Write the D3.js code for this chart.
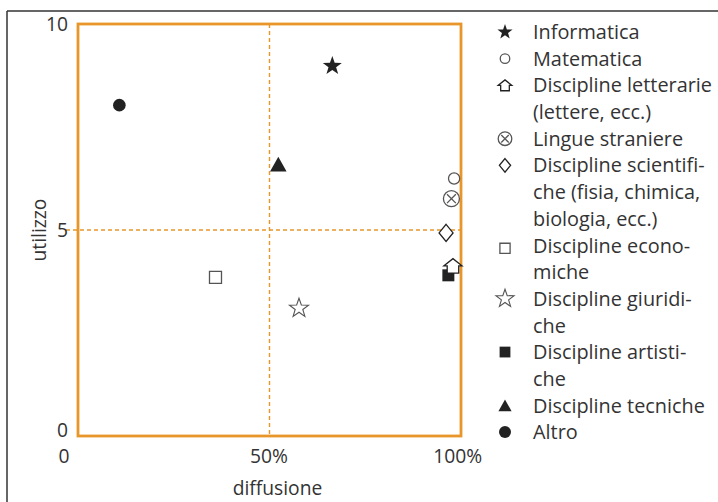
<!DOCTYPE html>
<html><head><meta charset="utf-8">
<script src="https://cdn.jsdelivr.net/npm/d3@7/dist/d3.min.js"></script>
<style>
html,body{margin:0;padding:0;background:#fff;}
svg{display:block;font-family:"Open Sans",Lato,sans-serif;font-variant-ligatures:none;font-feature-settings:"liga" 0;}
</style></head>
<body>
<svg id="chart" width="718" height="502"></svg>
<script>
// ---- data ----
const categories = ["Informatica","Matematica","Discipline letterarie","Lingue straniere","Discipline scientifiche","Discipline economiche","Discipline giuridiche","Discipline artistiche","Discipline tecniche","Altro"];
const diffusione = [0.664, 0.982, 0.979, 0.975, 0.961, 0.359, 0.577, 0.967, 0.523, 0.108];
const utilizzo   = [8.98, 6.25, 4.13, 5.76, 4.93, 3.85, 3.10, 3.90, 6.60, 8.03];
const symbolKinds = ["starFilled","circleOpen","houseOpen","circleX","diamondOpen","squareOpen","starOpen","squareFilled","triangleFilled","circleFilled"];
const legendLines = [
  ["Informatica"],
  ["Matematica"],
  ["Discipline letterarie","(lettere, ecc.)"],
  ["Lingue straniere"],
  ["Discipline scientifi-","che (fisia, chimica,","biologia, ecc.)"],
  ["Discipline econo-","miche"],
  ["Discipline giuridi-","che"],
  ["Discipline artisti-","che"],
  ["Discipline tecniche"],
  ["Altro"]
];
const xTicks = [0, 0.5, 1];
const xTickLabels = ["0","50%","100%"];
const yTicks = [0, 5, 10];
const yTickLabels = ["0","5","10"];

// ---- layout ----
const W = 718, H = 502;
const plot = {left:78, right:461, top:24, bottom:436};
const ORANGE = "#e8962a", INK = "#222", GREY = "#555", TEXT="#333";
const FONT = "'Open Sans',Lato,sans-serif";

const svg = d3.select("#chart");
const x = d3.scaleLinear().domain([0,1]).range([plot.left, plot.right]);
const y = d3.scaleLinear().domain([0,10]).range([plot.bottom, plot.top]);

// pick legend font size so the widest line matches the reference width (~179px)
const probe = svg.append("text").attr("font-size",18).attr("font-family",FONT).text("Discipline letterarie");
const probeW = probe.node().getComputedTextLength();
probe.remove();
const legendFS = Math.max(15, Math.min(20, 18*179/probeW));
const axisFS = legendFS*0.97;

// outer frame (top and left rules)
svg.append("line").attr("x1",7).attr("x2",W).attr("y1",11).attr("y2",11).attr("stroke","#333").attr("stroke-width",1.5);
svg.append("line").attr("x1",7).attr("x2",7).attr("y1",11).attr("y2",H).attr("stroke","#333").attr("stroke-width",1.5);

// dashed quadrant lines
svg.append("line").attr("x1",x(0.5)).attr("x2",x(0.5)).attr("y1",y(10)).attr("y2",y(0))
  .attr("stroke",ORANGE).attr("stroke-width",1.4).attr("stroke-dasharray","4,3");
svg.append("line").attr("x1",x(0)-12).attr("x2",x(1)).attr("y1",y(5)).attr("y2",y(5))
  .attr("stroke",ORANGE).attr("stroke-width",1.4).attr("stroke-dasharray","4,3");

// plot box
svg.append("rect").attr("x",x(0)).attr("y",y(10)).attr("width",x(1)-x(0)).attr("height",y(0)-y(10))
  .attr("fill","none").attr("stroke",ORANGE).attr("stroke-width",2.8);

// axes
const yAxis = d3.axisLeft(y).tickValues(yTicks).tickSize(0).tickPadding(10)
  .tickFormat((d,i)=>yTickLabels[i]);
const gy = svg.append("g").attr("transform",`translate(${x(0)},0)`).call(yAxis);
gy.select(".domain").remove();
gy.selectAll("text").attr("font-size",axisFS).attr("fill",TEXT).attr("font-family",FONT)
  .attr("dy",(d)=> d===0 ? "0.05em" : "0.35em");

const xAxis = d3.axisBottom(x).tickValues(xTicks).tickSize(0).tickPadding(13)
  .tickFormat((d,i)=>xTickLabels[i]);
const gx = svg.append("g").attr("transform",`translate(0,${y(0)})`).call(xAxis);
gx.select(".domain").remove();
gx.selectAll("text").attr("font-size",axisFS).attr("fill",TEXT).attr("font-family",FONT)
  .attr("dx",(d)=> d===0 ? "-0.75em" : (d===1 ? "-0.2em" : "-0.05em"));

// axis titles
svg.append("text").attr("x",x(0.5)+8).attr("y",495).attr("text-anchor","middle")
  .attr("font-size",axisFS).attr("fill",TEXT).text("diffusione");
svg.append("text").attr("transform",`translate(46,${y(5)}) rotate(-90)`).attr("text-anchor","middle")
  .attr("font-size",axisFS).attr("fill",TEXT).text("utilizzo");

// ---- symbols ----
function starPath(r){
  const ri = r*0.4; let p="";
  for(let i=0;i<10;i++){
    const a = -Math.PI/2 + i*Math.PI/5; const rr = i%2? ri : r;
    p += (i?"L":"M") + (rr*Math.cos(a)).toFixed(2)+","+(rr*Math.sin(a)).toFixed(2);
  }
  return p+"Z";
}
function circlePath(r){ return `M${r},0A${r},${r} 0 1,1 ${-r},0A${r},${r} 0 1,1 ${r},0Z`; }
function housePath(w){
  const h=w*0.8;
  return `M${-w/2},${0}L0,${-h/2}L${w/2},0L${w*0.32},0L${w*0.32},${h/2}L${-w*0.32},${h/2}L${-w*0.32},0Z`;
}
function diamondPath(w,h){ return `M0,${-h/2}L${w/2},0L0,${h/2}L${-w/2},0Z`; }
function squarePath(s){ return `M${-s/2},${-s/2}h${s}v${s}h${-s}Z`; }
function trianglePath(w){ const h=w*0.9; return `M0,${-h/2}L${w/2},${h/2}L${-w/2},${h/2}Z`; }

function drawSymbol(g, kind, scale){
  const s = scale;
  switch(kind){
    case "starFilled": g.append("path").attr("d",starPath(10*s)).attr("fill",INK); break;
    case "starOpen": g.append("path").attr("d",starPath(10*s)).attr("fill","#fff").attr("stroke",GREY).attr("stroke-width",1.1); break;
    case "circleOpen": g.append("path").attr("d",circlePath(5.6*s)).attr("fill","#fff").attr("stroke",GREY).attr("stroke-width",1.3); break;
    case "circleFilled": g.append("path").attr("d",circlePath(6.3*s)).attr("fill",INK); break;
    case "circleX": {
      const r=8*s;
      g.append("path").attr("d",circlePath(r)).attr("fill","#fff").attr("stroke",GREY).attr("stroke-width",1.3);
      const k=r*0.55;
      g.append("path").attr("d",`M${-k},${-k}L${k},${k}M${k},${-k}L${-k},${k}`).attr("stroke",GREY).attr("stroke-width",1.3);
      break; }
    case "houseOpen": g.append("path").attr("d",housePath(18*s)).attr("fill","#fff").attr("stroke",INK).attr("stroke-width",1.3).attr("stroke-linejoin","miter"); break;
    case "diamondOpen": g.append("path").attr("d",diamondPath(14*s,17*s)).attr("fill","#fff").attr("stroke",INK).attr("stroke-width",1.3); break;
    case "squareOpen": g.append("path").attr("d",squarePath(12*s)).attr("fill","#fff").attr("stroke",GREY).attr("stroke-width",1.3); break;
    case "squareFilled": g.append("path").attr("d",squarePath(12*s)).attr("fill",INK); break;
    case "triangleFilled": g.append("path").attr("d",trianglePath(16.5*s)).attr("fill",INK); break;
  }
}

// data points (reverse order so earlier legend items sit on top)
const idx = d3.range(categories.length).reverse();
idx.forEach(i=>{
  const g = svg.append("g").attr("class","pt").attr("transform",`translate(${x(diffusione[i])},${y(utilizzo[i])})`);
  drawSymbol(g, symbolKinds[i], 1);
});

// ---- legend ----
const lgX = 505, txtX = 533, lineH = 26.67, firstY = 32;
const legendScale = [0.8,0.85,0.75,0.85,0.8,0.85,0.95,0.9,0.8,0.95];
let line = 0;
categories.forEach((c,i)=>{
  const cy = firstY + line*lineH;
  const g = svg.append("g").attr("transform",`translate(${lgX},${cy + (symbolKinds[i]==="squareOpen"?3:0)})`);
  drawSymbol(g, symbolKinds[i], legendScale[i]);
  legendLines[i].forEach((t,j)=>{
    svg.append("text").attr("x",txtX).attr("y",firstY + (line+j)*lineH).attr("dy","0.36em")
      .attr("font-size",legendFS).attr("fill",TEXT).text(t);
  });
  line += legendLines[i].length;
});
</script>
</body></html>
